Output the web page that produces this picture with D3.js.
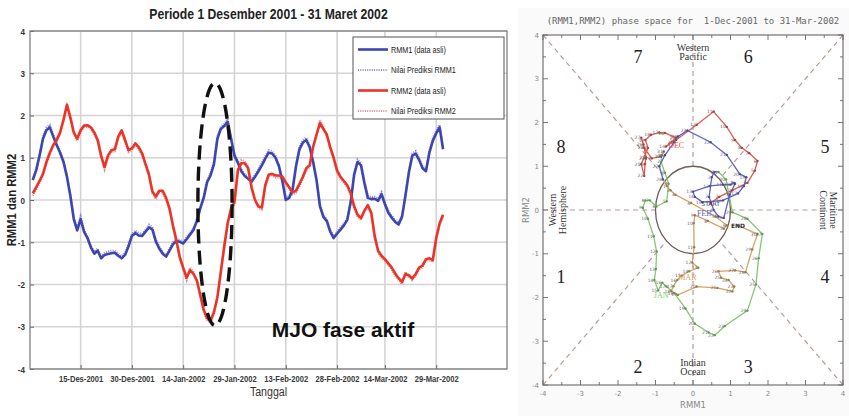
<!DOCTYPE html>
<html><head><meta charset="utf-8">
<script src="https://cdn.jsdelivr.net/npm/d3@7"></script>
<style>
html,body{margin:0;padding:0;background:#fff;}
svg{display:block;}
</style></head><body>
<svg id="fig" width="849" height="416"></svg>
<script>
// Daily RMM index, 1 Dec 2001 – 31 Mar 2002
const startDate = new Date(2001, 11, 1);

const rmm1 = [0.47,0.7,1.05,1.45,1.65,1.72,1.5,1.3,1.12,0.9,
 0.55,0.1,-0.45,-0.72,-0.45,-0.75,-0.9,-1.12,-1.27,-1.2,
 -1.38,-1.3,-1.28,-1.26,-1.25,-1.32,-1.38,-1.3,-1.1,-0.85,
 -0.78,-0.84,-0.85,-0.75,-0.65,-0.7,-0.98,-1.15,-1.27,-1.34,
 -1.2,-1.05,-0.97,-0.99,-1.03,-0.93,-0.82,-0.71,-0.5,-0.2,
 0.05,0.42,0.58,0.85,1.45,1.68,1.75,1.85,1.45,1.05,
 0.88,0.68,0.57,0.5,0.43,0.55,0.68,0.82,0.98,1.12,
 1.1,1.0,0.8,0.45,0.0,0.05,0.25,0.8,1.2,1.36,
 1.42,1.25,0.9,0.47,-0.15,-0.4,-0.5,-0.75,-0.9,-0.8,
 -0.7,-0.6,-0.47,-0.05,0.6,0.9,0.82,0.4,0.05,0.02,
 0.03,-0.02,0.14,-0.1,-0.3,-0.42,-0.52,-0.58,-0.4,0.1,
 0.65,1.05,1.1,0.95,0.75,0.68,1.12,1.4,1.58,1.72,
 1.2];

const rmm2 = [0.16,0.3,0.45,0.62,0.9,1.12,1.3,1.42,1.6,1.9,
 2.25,1.95,1.6,1.45,1.65,1.76,1.77,1.72,1.6,1.42,
 1.05,0.78,1.05,1.18,1.2,1.5,1.65,1.42,1.18,1.22,
 1.34,1.25,1.1,0.85,0.6,0.2,0.08,0.22,0.22,0.05,
 -0.2,-0.6,-0.95,-1.35,-1.6,-1.84,-1.66,-1.75,-1.9,-2.25,
 -2.6,-2.8,-2.86,-2.65,-2.3,-1.7,-1.1,-0.55,-0.2,-0.05,
 0.7,0.87,0.87,0.75,0.3,0.0,-0.15,-0.18,0.35,0.6,
 0.62,0.58,0.58,0.55,0.42,0.3,0.18,0.22,0.38,0.55,
 0.75,0.82,1.26,1.55,1.82,1.68,1.55,1.25,1.0,0.7,
 0.55,0.45,0.35,0.16,-0.15,-0.35,-0.43,-0.25,-0.12,-0.3,
 -0.85,-1.2,-1.32,-1.4,-1.5,-1.6,-1.74,-1.85,-1.94,-1.75,
 -1.78,-1.86,-1.75,-1.6,-1.55,-1.4,-1.38,-1.42,-0.9,-0.55,
 -0.35];

// Predicted values
const predRmm1 = [0.5,0.75,1.1,1.5,1.72,1.78,1.55,1.35,1.15,0.95,
 0.6,0.15,-0.4,-0.66,-0.38,-0.7,-0.86,-1.08,-1.22,-1.15,
 -1.33,-1.25,-1.22,-1.2,-1.2,-1.27,-1.33,-1.25,-1.05,-0.8,
 -0.72,-0.78,-0.8,-0.7,-0.58,-0.64,-0.93,-1.1,-1.22,-1.3,
 -1.15,-1.0,-0.92,-0.94,-0.98,-0.88,-0.77,-0.65,-0.45,-0.15,
 0.1,0.48,0.64,0.92,1.5,1.74,1.8,1.92,1.5,1.1,
 0.93,0.73,0.62,0.55,0.48,0.6,0.73,0.88,1.04,1.18,
 1.16,1.05,0.85,0.5,0.05,0.1,0.3,0.85,1.26,1.42,
 1.48,1.3,0.95,0.52,-0.1,-0.35,-0.45,-0.7,-0.85,-0.75,
 -0.65,-0.55,-0.42,0.0,0.66,0.96,0.88,0.45,0.1,0.07,
 0.08,0.03,0.19,-0.05,-0.25,-0.37,-0.47,-0.53,-0.35,0.15,
 0.7,1.1,1.16,1.0,0.8,0.73,1.18,1.46,1.64,1.78,
 1.25];

const predRmm2 = [0.1,0.25,0.4,0.58,0.85,1.08,1.26,1.38,1.56,1.86,
 2.3,2.0,1.55,1.4,1.6,1.72,1.73,1.68,1.55,1.37,
 1.0,0.72,1.0,1.14,1.15,1.45,1.6,1.37,1.13,1.17,
 1.3,1.2,1.05,0.8,0.55,0.14,0.02,0.17,0.17,0.0,
 -0.25,-0.65,-1.0,-1.4,-1.65,-1.9,-1.6,-1.7,-1.95,-2.3,
 -2.65,-2.85,-2.9,-2.7,-2.35,-1.75,-1.15,-0.6,-0.25,-0.1,
 0.75,0.95,0.92,0.8,0.25,0.02,-0.2,-0.23,0.3,0.55,
 0.58,0.53,0.53,0.5,0.37,0.25,0.13,0.17,0.33,0.5,
 0.7,0.78,1.22,1.5,1.9,1.75,1.5,1.2,0.95,0.65,
 0.5,0.4,0.3,0.1,-0.2,-0.4,-0.48,-0.3,-0.17,-0.35,
 -0.9,-1.25,-1.37,-1.45,-1.55,-1.65,-1.8,-1.9,-2.0,-1.7,
 -1.83,-1.9,-1.8,-1.65,-1.6,-1.45,-1.43,-1.47,-0.95,-0.6,
 -0.4];

// Axis ticks (day offsets from 1 Dec 2001)
const tickDays = [14, 29, 44, 59, 74, 89, 103, 118];
const tickLabels = ["15-Des-2001","30-Des-2001","14-Jan-2002","29-Jan-2002",
                    "13-Feb-2002","28-Feb-2002","14-Mar-2002","29-Mar-2002"];
const yTicks = [-4,-3,-2,-1,0,1,2,3,4];

const legendLabels = ["RMM1 (data asli)","Nilai Prediksi RMM1","RMM2 (data asli)","Nilai Prediksi RMM2"];

// Phase-space panel
const phaseTicks = [-4,-3,-2,-1,0,1,2,3,4];
const monthNames = ["DEC","JAN","FEB","MAR"];
const monthStarts = [0, 31, 62, 90];
const monthColors = ["#e2584e","#84c872","#5f62cc","#d3a264"];

const sans = "'Liberation Sans',Arial,sans-serif";
const svg = d3.select("#fig");

// squeeze text horizontally to get an Arial-Narrow look
function condense(sel, f) {
  sel.each(function() {
    const w = this.getComputedTextLength();
    d3.select(this).attr("textLength", w * f).attr("lengthAdjust", "spacingAndGlyphs");
  });
}

// ================= time-series panel =================
const L = {left:30, right:507, top:31, bottom:369};
const x = d3.scaleLinear().domain([-0.8, 138.7]).range([L.left, L.right]);
const y = d3.scaleLinear().domain([-4, 4]).range([L.bottom, L.top]);
const gL = svg.append("g");

gL.append("rect").attr("x",L.left).attr("y",L.top)
  .attr("width",L.right-L.left).attr("height",L.bottom-L.top).attr("fill","#fff");

gL.append("g").selectAll("line").data(tickDays).join("line")
  .attr("x1",d=>x(d)).attr("x2",d=>x(d)).attr("y1",L.top).attr("y2",L.bottom)
  .attr("stroke","#d4d4d4").attr("stroke-width",1.6);
gL.append("g").selectAll("line").data(yTicks).join("line")
  .attr("x1",L.left).attr("x2",L.right).attr("y1",d=>y(d)).attr("y2",d=>y(d))
  .attr("stroke","#d4d4d4").attr("stroke-width",1.6);

const yAxis = gL.append("g").attr("transform",`translate(${L.left},0)`)
  .call(d3.axisLeft(y).tickValues(yTicks).tickSize(-4).tickPadding(5).tickFormat(d=>String(d)));
yAxis.select(".domain").remove();
yAxis.selectAll("text").attr("font-family",sans).attr("font-size",9.5)
  .attr("font-weight","bold").attr("fill","#333").call(condense, 0.85);
yAxis.selectAll("line").attr("stroke","#666");

const xAxis = gL.append("g").attr("transform",`translate(0,${L.bottom})`)
  .call(d3.axisBottom(x).tickValues(tickDays).tickSize(-4).tickPadding(6)
        .tickFormat((d,i)=>tickLabels[i]));
xAxis.select(".domain").remove();
xAxis.selectAll("text").attr("font-family",sans).attr("font-size",9.5)
  .attr("font-weight","bold").attr("fill","#3a3a3a").call(condense, 0.8);
xAxis.selectAll("line").attr("stroke","#666");

gL.append("rect").attr("x",L.left).attr("y",L.top)
  .attr("width",L.right-L.left).attr("height",L.bottom-L.top)
  .attr("fill","none").attr("stroke","#777").attr("stroke-width",1.2);

const line = d3.line().x((d,i)=>x(i)).y(d=>y(d));

gL.append("path").datum(predRmm1).attr("d",line).attr("fill","none")
  .attr("stroke","#8f86d8").attr("stroke-width",2).attr("stroke-dasharray","1 1.3");
gL.append("path").datum(predRmm2).attr("d",line).attr("fill","none")
  .attr("stroke","#d88a96").attr("stroke-width",2).attr("stroke-dasharray","1 1.3");
gL.append("path").datum(rmm1).attr("d",line).attr("fill","none")
  .attr("stroke","#3d45b0").attr("stroke-width",2.6).attr("stroke-linejoin","round");
gL.append("path").datum(rmm2).attr("d",line).attr("fill","none")
  .attr("stroke","#ec3426").attr("stroke-width",2.6).attr("stroke-linejoin","round");

// active-phase highlight
gL.append("ellipse")
  .attr("cx",x(53.3)).attr("cy",y(-0.1))
  .attr("rx",x(58.3)-x(53.3)).attr("ry",y(-0.1)-y(2.77))
  .attr("fill","none").attr("stroke","#111").attr("stroke-width",3.4)
  .attr("stroke-dasharray","14 7");

gL.append("text").attr("x",x(69.9)).attr("y",y(-3.25))
  .attr("font-family",sans).attr("font-weight","bold")
  .attr("font-size",21).attr("fill","#111").text("MJO fase aktif");

// legend
const lg = gL.append("g").attr("transform","translate(353,37)");
lg.append("rect").attr("width",151).attr("height",82).attr("fill","#fff")
  .attr("stroke","#555").attr("stroke-width",1);
const legendStyles = [
  {c:"#3d45b0", w:2.6, dash:null},
  {c:"#8f86d8", w:2, dash:"1 1.3"},
  {c:"#ec3426", w:2.6, dash:null},
  {c:"#d88a96", w:2, dash:"1 1.3"}];
legendLabels.forEach((t,i)=>{
  const yy = 12.5 + i*20.5;
  lg.append("line").attr("x1",5).attr("x2",35).attr("y1",yy).attr("y2",yy)
    .attr("stroke",legendStyles[i].c).attr("stroke-width",legendStyles[i].w)
    .attr("stroke-dasharray",legendStyles[i].dash);
  lg.append("text").attr("x",38).attr("y",yy+3).attr("font-family",sans)
    .attr("font-size",9).attr("fill","#222").text(t).call(condense, 0.8);
});

svg.append("text").attr("x",(L.left+L.right)/2).attr("y",19).attr("text-anchor","middle")
  .attr("font-family",sans).attr("font-weight","bold").attr("font-size",14.5)
  .attr("fill","#222").text("Periode 1 Desember 2001 - 31 Maret 2002").call(condense, 0.84);
svg.append("text").attr("x",(L.left+L.right)/2).attr("y",396).attr("text-anchor","middle")
  .attr("font-family",sans).attr("font-size",12.5).attr("fill","#333").text("Tanggal").call(condense, 0.85);
svg.append("text").attr("transform",`translate(16,${(L.top+L.bottom)/2}) rotate(-90)`)
  .attr("text-anchor","middle").attr("font-family",sans).attr("font-weight","bold")
  .attr("font-size",12.5).attr("fill","#222").text("RMM1 dan RMM2").call(condense, 0.9);

// ================= phase-space panel =================
const P = {left:543, right:843, top:35, bottom:385};
const px = d3.scaleLinear().domain([-4,4]).range([P.left,P.right]);
const py = d3.scaleLinear().domain([-4,4]).range([P.bottom,P.top]);
const gP = svg.append("g");

gP.append("rect").attr("x",518).attr("y",8).attr("width",331).attr("height",408).attr("fill","#fafafa");
gP.append("rect").attr("x",P.left).attr("y",P.top).attr("width",P.right-P.left)
  .attr("height",P.bottom-P.top).attr("fill","#fff");

gP.append("text").attr("x",(P.left+P.right)/2).attr("y",24).attr("text-anchor","middle")
  .attr("font-family","'DejaVu Sans Mono',monospace").attr("font-size",9)
  .attr("fill","#666").attr("xml:space","preserve")
  .text("(RMM1,RMM2) phase space for  1-Dec-2001 to 31-Mar-2002");

// phase boundary guides
const r45 = Math.SQRT1_2;
const guides = [
  [[-4,-4],[-r45,-r45]],[[4,4],[r45,r45]],[[-4,4],[-r45,r45]],[[4,-4],[r45,-r45]],
  [[-4,0],[-1,0]],[[1,0],[4,0]],[[0,4],[0,1]],[[0,-4],[0,-1]]];
gP.append("g").selectAll("line").data(guides).join("line")
  .attr("x1",d=>px(d[0][0])).attr("y1",d=>py(d[0][1]))
  .attr("x2",d=>px(d[1][0])).attr("y2",d=>py(d[1][1]))
  .attr("stroke","#b59e96").attr("stroke-width",1.2).attr("stroke-dasharray","5 4");

gP.append("ellipse").attr("cx",px(0)).attr("cy",py(0))
  .attr("rx",px(1)-px(0)).attr("ry",py(0)-py(1))
  .attr("fill","none").attr("stroke","#6e5d58").attr("stroke-width",1.3);

// ticks on all four sides
const minor = d3.range(-4,4.01,0.5);
const tk = gP.append("g").attr("stroke","#777").attr("stroke-width",1);
minor.forEach(v=>{
  const len = Number.isInteger(v) ? 5 : 3;
  tk.append("line").attr("x1",px(v)).attr("x2",px(v)).attr("y1",P.bottom).attr("y2",P.bottom-len);
  tk.append("line").attr("x1",px(v)).attr("x2",px(v)).attr("y1",P.top).attr("y2",P.top+len);
  tk.append("line").attr("y1",py(v)).attr("y2",py(v)).attr("x1",P.left).attr("x2",P.left+len);
  tk.append("line").attr("y1",py(v)).attr("y2",py(v)).attr("x1",P.right).attr("x2",P.right-len);
});
gP.append("rect").attr("x",P.left).attr("y",P.top).attr("width",P.right-P.left)
  .attr("height",P.bottom-P.top).attr("fill","none").attr("stroke","#666").attr("stroke-width",1.1);

gP.append("g").selectAll("text").data(phaseTicks).join("text")
  .attr("x",d=>px(d)).attr("y",P.bottom+11).attr("text-anchor","middle")
  .attr("font-family","'DejaVu Sans',sans-serif").attr("font-size",7).attr("fill","#888")
  .text(d=>d);
gP.append("g").selectAll("text").data(phaseTicks).join("text")
  .attr("x",P.left-4).attr("y",d=>py(d)+2.5).attr("text-anchor","end")
  .attr("font-family","'DejaVu Sans',sans-serif").attr("font-size",7).attr("fill","#888")
  .text(d=>d);
gP.append("text").attr("x",px(0)).attr("y",408).attr("text-anchor","middle")
  .attr("font-family","'DejaVu Sans',sans-serif").attr("font-size",8.5).attr("fill","#888").text("RMM1");
gP.append("text").attr("transform",`translate(529,${py(0)}) rotate(-90)`).attr("text-anchor","middle")
  .attr("font-family","'DejaVu Sans',sans-serif").attr("font-size",8.5).attr("fill","#888").text("RMM2");

// phase numbers and region names
const serif = "'Liberation Serif','DejaVu Serif',serif";
const phaseNums = [["1",-3.52,-1.53],["2",-1.47,-3.58],["3",1.47,-3.58],["4",3.52,-1.53],
                   ["5",3.52,1.44],["6",1.47,3.5],["7",-1.47,3.5],["8",-3.52,1.44]];
gP.append("g").selectAll("text").data(phaseNums).join("text")
  .attr("x",d=>px(d[1])).attr("y",d=>py(d[2])+6).attr("text-anchor","middle")
  .attr("font-family",serif).attr("font-size",18).attr("fill","#222").text(d=>d[0]);

const region = (lines, cx, cy, rot) => {
  const g = gP.append("g").attr("transform",`translate(${px(cx)},${py(cy)}) rotate(${rot})`);
  lines.forEach((t,i)=>g.append("text").attr("y",(i-(lines.length-1)/2)*9.5+3)
    .attr("text-anchor","middle").attr("font-family",serif).attr("font-size",10)
    .attr("fill","#333").text(t));
};
region(["Western","Pacific"], 0, 3.6, 0);
region(["Indian","Ocean"], 0, -3.6, 0);
region(["Western","Hemisphere"], -3.6, 0, -90);
region(["Maritime","Continent"], 3.6, 0, 90);

// daily trajectory, one colour per month
const pts = rmm1.map((v,i)=>({i, a:v, b:rmm2[i], date:d3.timeDay.offset(startDate,i)}));
const pline = d3.line().x(d=>px(d.a)).y(d=>py(d.b));
monthStarts.forEach((s,m)=>{
  const e = m+1 < monthStarts.length ? monthStarts[m+1] : pts.length;
  const seg = pts.slice(Math.max(0,s-1), e);
  gP.append("path").datum(seg).attr("d",pline).attr("fill","none")
    .attr("stroke",monthColors[m]).attr("stroke-width",1.3);
});
const monthOf = i => d3.bisectRight(monthStarts, i) - 1;
gP.append("g").selectAll("circle").data(pts).join("circle")
  .attr("cx",d=>px(d.a)).attr("cy",d=>py(d.b)).attr("r",1.2)
  .attr("fill",d=>d3.color(monthColors[monthOf(d.i)]).darker(0.8));
gP.append("g").selectAll("text").data(pts.slice(1,-1)).join("text")
  .attr("x",d=>px(d.a)-1).attr("y",d=>py(d.b)+1.6)
  .attr("text-anchor","end").attr("font-family","'DejaVu Sans',sans-serif")
  .attr("font-size",4.5).attr("fill","#666").text(d=>d.date.getDate());

const first = pts[0], last = pts[pts.length-1];
gP.append("text").attr("x",px(first.a)).attr("y",py(first.b)+2.5).attr("text-anchor","middle")
  .attr("font-family","'DejaVu Sans',sans-serif").attr("font-size",6).attr("fill","#335").text("START");
gP.append("text").attr("x",px(last.a)).attr("y",py(last.b)+2.5).attr("text-anchor","middle")
  .attr("font-family","'DejaVu Sans',sans-serif").attr("font-size",6).attr("font-weight","bold")
  .attr("fill","#333").text("END");

// month names beside the trajectory
const monthLabelPos = [[-0.45,1.48],[-0.85,-1.95],[0.3,-0.06],[-0.15,-1.52]];
monthNames.forEach((n,m)=>{
  gP.append("text").attr("x",px(monthLabelPos[m][0])).attr("y",py(monthLabelPos[m][1])+3)
    .attr("text-anchor","middle").attr("font-family",serif).attr("font-size",8)
    .attr("fill",monthColors[m]).text(n);
});
</script>
</body></html>
